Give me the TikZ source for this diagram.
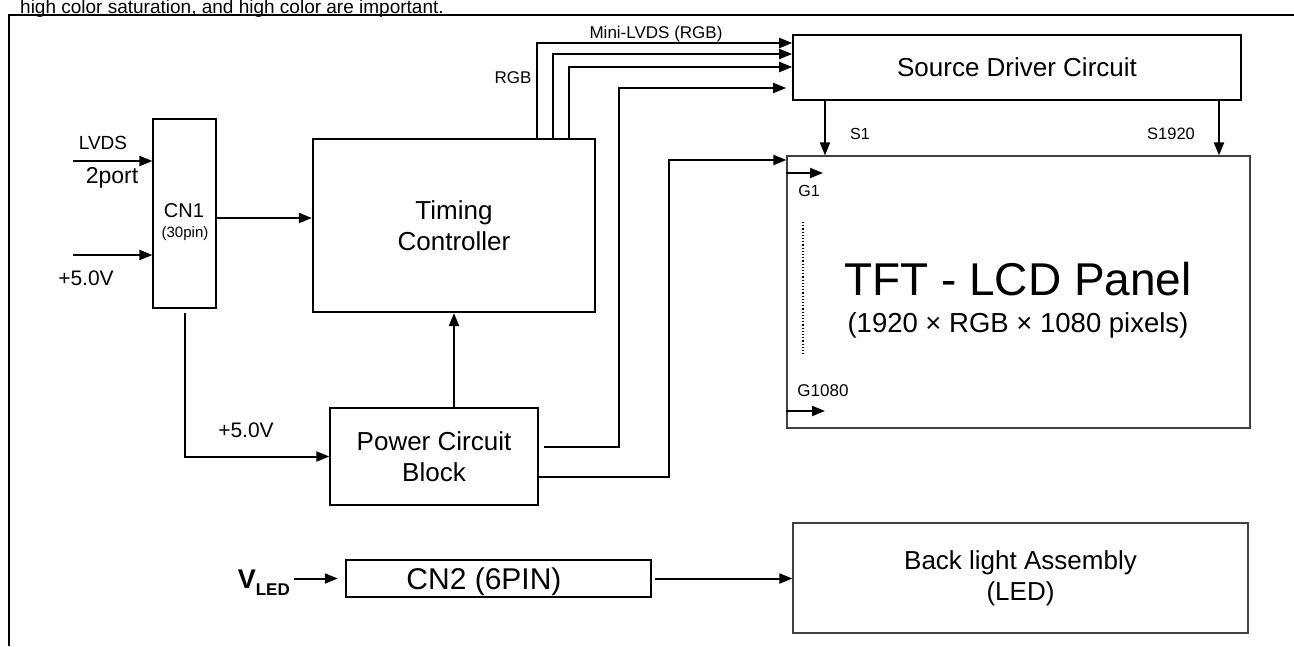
\documentclass[tikz,border=0pt]{standalone}
\usepackage{fontspec}
\setmainfont{Liberation Sans}
\usetikzlibrary{arrows.meta, positioning, calc}
\definecolor{boxgray}{HTML}{404040}
\newcommand{\fsz}[2]{\fontsize{#1}{#2}\selectfont}

\begin{document}
\begin{tikzpicture}[x=1pt, y=-1pt,
    blk/.style={draw, line width=1.3pt, inner sep=0pt, align=center, font=\fsz{26}{31}},
    arr/.style={-{Triangle[length=13pt, width=10pt]}, line width=2pt},
    lbl/.style={inner sep=0pt, anchor=base, font=\fsz{17}{20}}]
  \useasboundingbox (0,0) rectangle (1294,646);
  % Header and frame
  \node[lbl, anchor=base west, font=\fsz{19}{23}] (head) at (20,13.5) {high color saturation, and high color are important.};
  \draw[line width=2.2pt] (1294,15) -- (9,15) -- (9,646);
  % Blocks
  \node[blk, line width=1.1pt, minimum width=63pt, minimum height=189pt] (cn1) at (184.5,213.5) {};
  \node[blk, line width=2.2pt, minimum width=282pt, minimum height=173pt] (tcon) at (454,225.5) {Timing\\Controller};
  \node[blk, minimum width=208pt, minimum height=97pt] (pwr) at (434,456.5) {Power Circuit\\Block};
  \node[blk, line width=1.6pt, minimum width=448pt, minimum height=65pt] (src) at (1017,67.5) {Source Driver Circuit};
  \node[blk, draw=boxgray, line width=1.2pt, minimum width=463pt, minimum height=272pt] (tft) at (1018.5,292) {};
  \node[blk, draw=boxgray, line width=1.2pt, minimum width=455pt, minimum height=110pt] (bl) at (1020.5,578) {Back light Assembly\\(LED)};
  \node[blk, line width=2.4pt, minimum width=305pt, minimum height=37pt] (cn2) at (498.5,578.5) {};
  \node[lbl, font=\fsz{30}{32}] (cn2name) at (484,589) {CN2 (6PIN)};
  % CN1 text
  \node[lbl, font=\fsz{20}{24}] (cn1name) at (184,217) {CN1};
  \node[lbl, font=\fsz{15}{18}] (cn1pin) at (185,237) {(30pin)};
  % TFT text
  \node[lbl, font=\fsz{46}{50}] (tftname) at (1018,295) {TFT - LCD Panel};
  \node[lbl, font=\fsz{27.5}{30}] (tftres) at (1018,332) {(1920 × RGB × 1080 pixels)};
  % CN1 inputs
  \coordinate (lvds) at (73,161);
  \coordinate (vin) at (73,255);
  \draw[arr] (lvds) -- (lvds -| cn1.west);
  \draw[arr] (vin) -- (vin -| cn1.west);
  \node[lbl, font=\fsz{19}{23}] (lvdslbl) at (103,149) {LVDS};
  \node[lbl, font=\fsz{23}{27}] (portlbl) at (112,183) {2port};
  \node[lbl, font=\fsz{21}{25}] (vinlbl) at (86,285) {+5.0V};
  % CN1 outputs
  \coordinate (cnout) at ([yshift=-4.5pt]cn1.east);
  \draw[arr] (cnout) -- (cnout -| tcon.west);
  \draw[arr, shorten <=4pt] (cn1.south) |- (pwr.west);
  \node[lbl, font=\fsz{21}{25}] (pwrlbl) at (246,437) {+5.0V};
  \draw[arr] (tcon.south |- pwr.north) -- (tcon.south);
  % RGB bus
  \foreach \n/\x/\y in {1/537/43, 2/553/54, 3/569/67} {
    \coordinate (rgb\n) at (\x,\y);
    \draw[arr] (rgb\n |- tcon.north) |- (rgb\n -| src.west);
  }
  \node[lbl] (rgblbl) at (513,83) {RGB};
  \node[lbl] (minilbl) at (656,38) {Mini-LVDS (RGB)};
  % Power outputs
  \coordinate (pA) at ([xshift=5pt, yshift=9.5pt]pwr.east);
  \coordinate (pB) at ([yshift=-20.5pt]pwr.east);
  \coordinate (vsrc) at (619,88);
  \coordinate (vtft) at (669,160);
  \draw[arr, shorten >=6pt] (pA) -| (vsrc) -- (vsrc -| src.west);
  \draw[arr] (pB) -| (vtft) -- (vtft -| tft.west);
  % Source lines
  \coordinate (s1) at (825,0);
  \coordinate (s1920) at (1219,0);
  \draw[arr] (s1 |- src.south) -- (s1 |- tft.north);
  \draw[arr] (s1920 |- src.south) -- (s1920 |- tft.north);
  \node[lbl, font=\fsz{16}{19}] (s1lbl) at (860,139) {S1};
  \node[lbl, font=\fsz{16.5}{19}] (s1920lbl) at (1171,139) {S1920};
  % Gate lines
  \coordinate (g1) at (823,173);
  \coordinate (g1080) at (825,411);
  \draw[arr] (g1 -| tft.west) -- (g1);
  \draw[arr] (g1080 -| tft.west) -- (g1080);
  \node[lbl, font=\fsz{16}{19}] (g1lbl) at (809,196) {G1};
  \node[lbl, font=\fsz{17}{20}] (g1080lbl) at (823,396) {G1080};
  \draw[line width=1.2pt, dash pattern=on 1.2pt off 2pt] (803,222) -- (803,355);
  % Backlight path
  \node[inner sep=0pt, anchor=base east, font=\fsz{27}{30}\bfseries] (vled) at (290,588) {V\raisebox{-7pt}{\fsz{17}{20}\bfseries LED}};
  \draw[arr, shorten <=4pt, shorten >=7pt] (vled.east |- cn2.west) -- (cn2.west);
  \draw[arr, shorten <=3pt] (cn2.east) -- (cn2.east -| bl.west);
\end{tikzpicture}
\end{document}
